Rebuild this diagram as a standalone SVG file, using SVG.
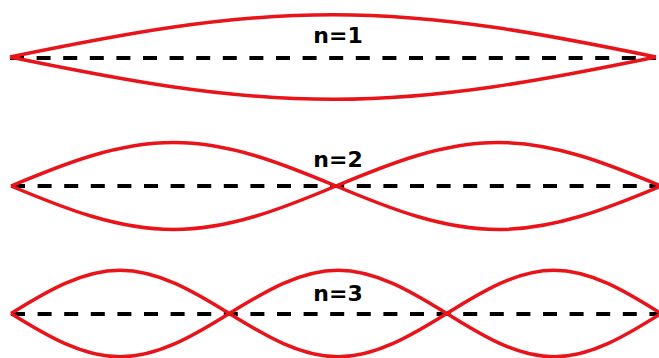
<svg xmlns="http://www.w3.org/2000/svg" width="659" height="358" viewBox="0 0 659 358">
<style>
.wave{fill:none;stroke:#e8141a;stroke-width:3.5;stroke-linejoin:round}
.axis{fill:none;stroke:#000;stroke-width:4;stroke-dasharray:14 12.6}
.lbl{font-family:"DejaVu Sans",sans-serif;font-weight:bold;font-size:22px;fill:#000;text-anchor:middle}
</style>
<rect width="659" height="358" fill="#fff"/>
<g id="connectors">
<line class="axis" x1="10" y1="58" x2="656" y2="58"/>
<line class="axis" x1="11" y1="186" x2="659" y2="186"/>
<line class="axis" x1="11" y1="314" x2="659" y2="314"/>
</g>
<g id="mode1">
<path class="wave" d="M10,57 C118,34.8 221.9,14.7 333,14.7 C444.1,14.7 548,34.8 656,57"/>
<path class="wave" d="M10,57 C118,79.2 221.9,99.3 333,99.3 C444.1,99.3 548,79.2 656,57"/>
<text class="lbl" x="338" y="43">n=1</text>
</g>
<g id="mode2">
<path class="wave" d="M11,186 C65.3,163.2 117.6,142.5 173.5,142.5 C229.4,142.5 281.7,163.2 336,186 C390.3,208.8 442.6,229.5 498.5,229.5 C554.4,229.5 606.7,208.8 661,186"/>
<path class="wave" d="M11,186 C65.3,208.8 117.6,229.5 173.5,229.5 C229.4,229.5 281.7,208.8 336,186 C390.3,163.2 442.6,142.5 498.5,142.5 C554.4,142.5 606.7,163.2 661,186"/>
<text class="lbl" x="338" y="167">n=2</text>
</g>
<g id="mode3">
<path class="wave" d="M11,313.5 C47.4,290.8 82.7,270.2 120,270.2 C157.5,270.2 192.8,290.8 229.3,313.5 C265.8,336.2 301,356.8 338,356.8 C375,356.8 410.3,336.2 446.8,313.5 C483,290.8 517.5,270.2 554,270.2 C590.5,270.2 625,290.8 661,313.5"/>
<path class="wave" d="M11,313.5 C47.4,336.2 82.7,356.8 120,356.8 C157.5,356.8 192.8,336.2 229.3,313.5 C265.8,290.8 301,270.2 338,270.2 C375,270.2 410.3,290.8 446.8,313.5 C483,336.2 517.5,356.8 554,356.8 C590.5,356.8 625,336.2 661,313.5"/>
<text class="lbl" x="338" y="301">n=3</text>
</g>
</svg>
